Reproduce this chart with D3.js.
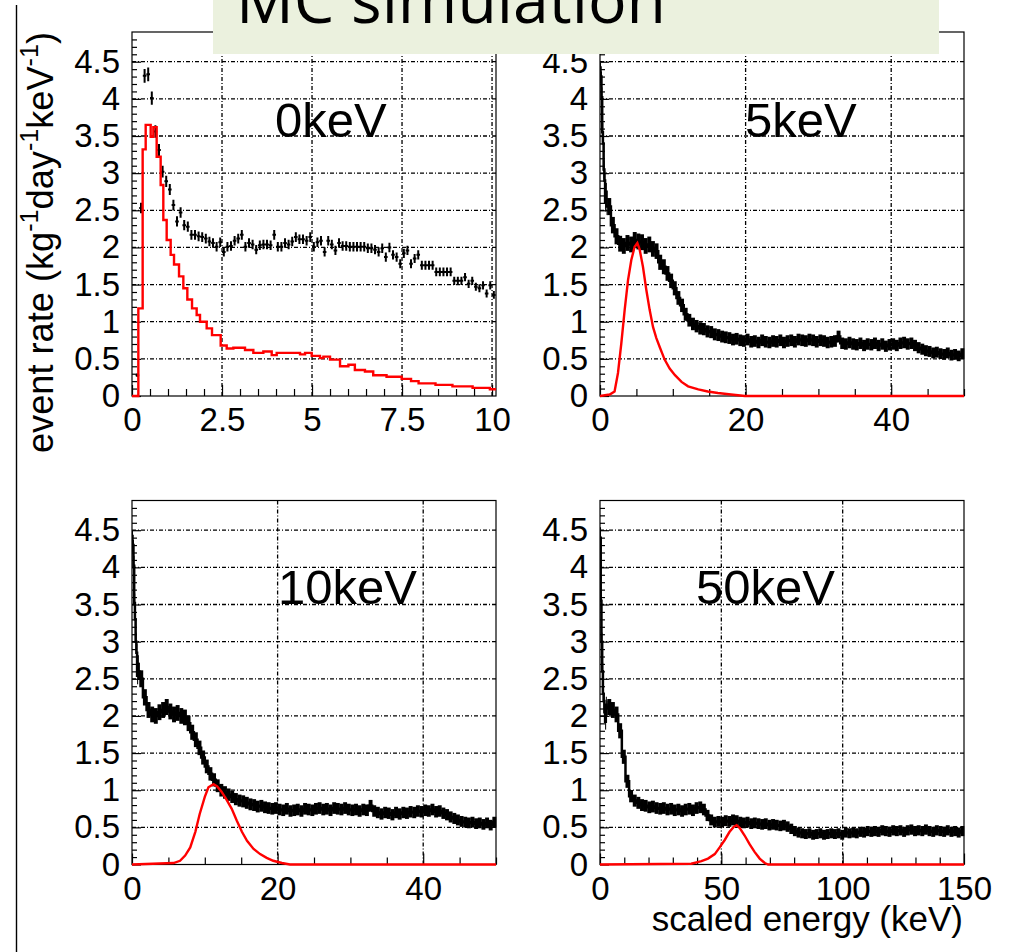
<!DOCTYPE html>
<html>
<head>
<meta charset="utf-8">
<script src="https://cdn.jsdelivr.net/npm/d3@7"></script>
<style>
  body { margin: 0; background: #fff; }
  svg { display: block; }
  text { font-family: "Liberation Sans", Arial, sans-serif; fill: #000; }
  .tick text { font-size: 33px; }
</style>
</head>
<body>
<svg id="chart" width="1010" height="952"></svg>
<script>
// ---- data ----

// 0keV: measured points, 0.1 keV bins starting at 0.1 keV
const rate0 = [0.28,2.53,4.31,4.33,4.01,3.56,3.31,3.02,2.89,2.78,
  2.57,2.35,2.47,2.30,2.28,2.17,2.17,2.15,2.14,2.12,
  2.08,2.06,2.01,2.07,1.94,2.01,2.02,2.09,2.12,2.17,
  2.01,2.06,2.04,1.97,2.03,2.04,2.04,2.03,2.17,2.01,
  2.01,2.06,2.04,2.08,2.14,2.11,2.11,2.09,2.14,2.01,
  2.07,2.09,1.94,2.09,2.04,1.96,2.06,2.02,2.02,2.01,
  2.01,2.01,2.01,2.01,1.99,1.99,1.97,1.94,1.99,1.87,
  2.00,1.90,1.87,1.78,1.92,1.96,1.78,1.85,1.90,1.76,
  1.76,1.76,1.76,1.67,1.67,1.67,1.67,1.67,1.55,1.55,
  1.55,1.60,1.51,1.55,1.47,1.45,1.49,1.38,1.49,1.36];
// 0keV: simulated histogram (bin low edges, contents)
const red0E = [0,0.176,0.296,0.38,0.519,0.593,0.685,0.796,0.87,0.963,1.074,1.167,1.306,1.426,1.537,1.667,1.796,1.889,2.074,2.222,2.463,2.63,2.815,3.139,3.37,3.648,3.88,4.019,4.667,4.806,4.991,5.222,5.315,5.5,5.778,6.01,6.19,6.47,6.70,7.07,7.49,7.75,7.96,8.43,8.9,9.46,9.94,10.11];
const red0R = [0,1.18,3.32,3.65,3.49,3.62,3.22,2.84,2.37,2.10,1.90,1.77,1.61,1.45,1.30,1.18,1.09,1.00,0.91,0.82,0.68,0.64,0.65,0.62,0.58,0.60,0.55,0.58,0.56,0.58,0.54,0.51,0.53,0.49,0.40,0.42,0.35,0.33,0.28,0.26,0.23,0.20,0.17,0.15,0.13,0.11,0.09,0.09];

// 5keV: 0.1 keV bins below 1 keV, 0.5 keV bins above
const head5 = [4.35,4.30,4.02,3.55,3.40,3.05,2.90,2.60,2.75,2.55];
const body5 = [2.55,2.30,2.15,2.05,2.02,2.06,2.04,2.10,2.08,2.07,
  2.02,2.04,1.98,1.95,1.80,1.74,1.65,1.55,1.45,1.32,
  1.22,1.10,1.02,0.97,0.94,0.91,0.90,0.87,0.86,0.83,
  0.82,0.80,0.79,0.78,0.76,0.77,0.75,0.74,0.76,0.73,
  0.74,0.72,0.75,0.73,0.72,0.74,0.73,0.75,0.72,0.74,
  0.75,0.73,0.76,0.75,0.74,0.76,0.75,0.73,0.75,0.74,
  0.72,0.73,0.74,0.80,0.71,0.70,0.72,0.70,0.69,0.71,
  0.68,0.70,0.69,0.71,0.68,0.70,0.67,0.69,0.70,0.68,
  0.71,0.72,0.70,0.71,0.68,0.65,0.63,0.61,0.60,0.58,
  0.59,0.57,0.56,0.58,0.55,0.56,0.54,0.57];
const red5E = [0,1.33,2.0,2.47,2.93,3.39,3.85,4.3,4.76,5.13,5.45,5.9,6.36,6.82,7.28,7.74,8.2,8.88,9.57,10.3,11.2,12.1,13.5,14.8,16.2,18,19.9,50];
const red5R = [0,0.02,0.06,0.31,0.71,1.16,1.56,1.83,2.01,2.06,1.97,1.74,1.43,1.16,0.93,0.78,0.66,0.49,0.37,0.28,0.19,0.13,0.09,0.06,0.04,0.02,0,0];

// 10keV
const head10 = [4.35,4.30,4.02,3.52,3.30,3.00,2.85,2.54,2.70,2.60];
const body10 = [2.50,2.25,2.08,2.02,2.00,2.05,2.08,2.12,2.06,2.02,
  2.04,2.00,1.98,1.90,1.78,1.68,1.57,1.44,1.32,1.22,
  1.14,1.06,1.00,0.97,0.94,0.91,0.88,0.86,0.85,0.83,
  0.81,0.80,0.78,0.79,0.77,0.76,0.75,0.76,0.74,0.73,
  0.75,0.72,0.73,0.74,0.72,0.75,0.74,0.73,0.75,0.76,
  0.74,0.75,0.73,0.76,0.75,0.74,0.76,0.74,0.73,0.74,
  0.72,0.74,0.73,0.79,0.72,0.70,0.68,0.70,0.69,0.67,
  0.70,0.68,0.70,0.69,0.71,0.70,0.72,0.71,0.73,0.72,
  0.74,0.71,0.72,0.69,0.67,0.64,0.62,0.60,0.58,0.57,
  0.56,0.57,0.55,0.56,0.54,0.56,0.53,0.57];
const red10E = [0,5.7,6.6,7.3,8.0,8.7,9.3,10.0,10.5,11.2,11.7,12.3,13.0,13.7,14.4,15.1,15.8,16.7,17.6,18.5,19.4,20.6,21.7,50];
const red10R = [0,0.02,0.05,0.12,0.23,0.44,0.68,0.91,1.04,1.08,1.05,0.98,0.87,0.75,0.59,0.44,0.32,0.21,0.14,0.09,0.05,0.02,0,0];

// 50keV: 0.3 keV bins below 3 keV, 1.5 keV bins above
const head50 = [4.40,3.55,3.00,2.60,2.30,2.20,2.05,1.92,2.15,2.10];
const body50 = [2.12,2.08,2.02,1.80,1.45,1.12,0.92,0.86,0.83,0.80,
  0.79,0.77,0.78,0.76,0.75,0.76,0.74,0.75,0.73,0.74,
  0.72,0.74,0.75,0.73,0.76,0.77,0.74,0.66,0.60,0.57,
  0.58,0.57,0.59,0.58,0.60,0.59,0.57,0.56,0.57,0.55,
  0.56,0.55,0.54,0.55,0.53,0.54,0.53,0.52,0.53,0.51,
  0.48,0.45,0.43,0.42,0.41,0.42,0.40,0.41,0.42,0.40,
  0.41,0.42,0.41,0.42,0.40,0.43,0.42,0.43,0.42,0.44,
  0.43,0.45,0.44,0.45,0.44,0.46,0.45,0.44,0.46,0.45,
  0.46,0.44,0.46,0.47,0.45,0.46,0.45,0.47,0.45,0.44,
  0.46,0.45,0.44,0.46,0.44,0.45,0.43,0.45];
const red50E = [0,37.6,41.8,44.5,47.3,49.3,51.4,53.4,55.2,56.3,57.6,59.6,61.7,63.7,65.8,67.9,69.3,150];
const red50R = [0,0.01,0.045,0.08,0.14,0.23,0.33,0.44,0.51,0.53,0.49,0.39,0.27,0.17,0.08,0.02,0,0];

const yMajor = [0,0.5,1,1.5,2,2.5,3,3.5,4,4.5];

// ---- layout ----
const svg = d3.select("#chart");
const size = 364, yMax = 4.9;

const panels = [
  {name: "0keV", left: 132, top: 32, xMax: 10.11, xMajor: [0,2.5,5,7.5,10], xMinor: 0.5,
   black: [{start: 0.1, width: 0.1, values: rate0}], dense: false,
   redE: red0E, redR: red0R, curve: d3.curveStepAfter, lab: [275, 137]},
  {name: "5keV", left: 600, top: 32, xMax: 50, xMajor: [0,20,40], xMinor: 5,
   black: [{start: 0, width: 0.1, values: head5}, {start: 1, width: 0.5, values: body5}], dense: true,
   redE: red5E, redR: red5R, curve: d3.curveLinear, lab: [745, 137]},
  {name: "10keV", left: 132, top: 500.5, xMax: 50, xMajor: [0,20,40], xMinor: 5,
   black: [{start: 0, width: 0.1, values: head10}, {start: 1, width: 0.5, values: body10}], dense: true,
   redE: red10E, redR: red10R, curve: d3.curveLinear, lab: [278, 604]},
  {name: "50keV", left: 600, top: 500.5, xMax: 150, xMajor: [0,50,100,150], xMinor: 10,
   black: [{start: 0, width: 0.3, values: head50}, {start: 3, width: 1.5, values: body50}], dense: true,
   redE: red50E, redR: red50R, curve: d3.curveLinear, lab: [696, 604]}
];

panels.forEach((p, k) => {
  const x = d3.scaleLinear().domain([0, p.xMax]).range([p.left, p.left + size]);
  const y = d3.scaleLinear().domain([0, yMax]).range([p.top + size, p.top]);
  const g = svg.append("g");
  const bottom = p.top + size;

  // clip slightly below the frame so the zero line stays whole
  g.append("clipPath").attr("id", "clip" + k)
    .append("rect").attr("x", p.left).attr("y", p.top).attr("width", size + 1).attr("height", size + 2);

  // grid
  const dash = "4,2,1,2";
  g.selectAll(".hg").data(yMajor.filter(d => d > 0)).join("line")
    .attr("x1", p.left).attr("x2", p.left + size)
    .attr("y1", d => y(d)).attr("y2", d => y(d))
    .attr("stroke", "#000").attr("stroke-width", 1.3).attr("stroke-dasharray", dash);
  g.selectAll(".vg").data(p.xMajor.filter(d => d > 0 && d < p.xMax - 0.001)).join("line")
    .attr("x1", d => x(d)).attr("x2", d => x(d))
    .attr("y1", p.top).attr("y2", bottom)
    .attr("stroke", "#000").attr("stroke-width", 1.3).attr("stroke-dasharray", dash);

  // axes
  const fmt = d3.format("~g");
  const yMinor = d3.range(1, 49).map(i => i / 10).filter((d, i) => (i + 1) % 5 !== 0);
  const xMinor = d3.range(1, Math.floor(p.xMax / p.xMinor + 1e-6) + 1).map(i => i * p.xMinor)
    .filter(d => !p.xMajor.some(m => Math.abs(m - d) < 1e-6));

  const ya = g.append("g").attr("transform", `translate(${p.left},0)`)
    .call(d3.axisLeft(y).tickValues(yMajor).tickSize(-9).tickPadding(12).tickFormat(fmt));
  const ym = g.append("g").attr("transform", `translate(${p.left},0)`)
    .call(d3.axisLeft(y).tickValues(yMinor).tickSize(-5).tickFormat(""));
  const xa = g.append("g").attr("transform", `translate(0,${bottom})`)
    .call(d3.axisBottom(x).tickValues(p.xMajor).tickSize(-11).tickPadding(12).tickFormat(fmt));
  const xm = g.append("g").attr("transform", `translate(0,${bottom})`)
    .call(d3.axisBottom(x).tickValues(xMinor).tickSize(-7).tickFormat(""));
  [ya, ym, xa, xm].forEach(a => {
    a.attr("font-family", null).attr("font-size", null);
    a.select(".domain").remove();
    a.selectAll(".tick line").attr("stroke", "#000").attr("stroke-width", 1.2);
  });

  // frame
  g.append("rect").attr("x", p.left).attr("y", p.top).attr("width", size).attr("height", size)
    .attr("fill", "none").attr("stroke", "#000").attr("stroke-width", 1.2);

  // measured points with error bars
  const pts = [];
  p.black.forEach(part => part.values.forEach((v, i) => {
    pts.push({lo: part.start + i * part.width, hi: part.start + (i + 1) * part.width, v});
  }));
  const clip = `url(#clip${k})`;
  if (p.dense) {
    // fine binning: the error bars merge into a band
    const err = v => 0.05 * Math.sqrt(v) + 0.035;
    g.append("g").attr("clip-path", clip).selectAll("rect").data(pts).join("rect")
      .attr("x", d => x(d.lo)).attr("width", d => x(d.hi) - x(d.lo) + 0.3)
      .attr("y", d => y(d.v + err(d.v))).attr("height", d => y(d.v - err(d.v)) - y(d.v + err(d.v)))
      .attr("fill", "#000");
    const step = d3.line().x(d => x(d[0])).y(d => y(d[1])).curve(d3.curveStepAfter);
    g.append("path").datum(pts.map(d => [d.lo, d.v]).concat([[pts[pts.length - 1].hi, pts[pts.length - 1].v]]))
      .attr("d", step).attr("clip-path", clip)
      .attr("fill", "none").attr("stroke", "#000").attr("stroke-width", 2.5);
  } else {
    const err = v => 0.045 * Math.sqrt(v);
    const bars = pts.map(d => {
      const c = (d.lo + d.hi) / 2, e = err(d.v);
      return `M${x(d.lo)},${y(d.v)}H${x(d.hi)}M${x(c)},${y(d.v - e)}V${y(d.v + e)}`;
    }).join("");
    g.append("path").attr("d", bars).attr("clip-path", clip)
      .attr("fill", "none").attr("stroke", "#000").attr("stroke-width", 2);
  }

  // simulated spectrum, drawn over the frame's bottom edge
  const line = d3.line().x(d => x(d[0])).y(d => y(d[1])).curve(p.curve);
  g.append("path").datum(d3.zip(p.redE, p.redR)).attr("d", line)
    .attr("clip-path", clip)
    .attr("fill", "none").attr("stroke", "#ff0000").attr("stroke-width", 2.4);

  // panel label
  g.append("text").attr("x", p.lab[0]).attr("y", p.lab[1]).attr("font-size", 49).text(p.name);
});

// y axis title
const yt = svg.append("text").attr("transform", "translate(53,453) rotate(-90)")
  .attr("font-size", 36).attr("textLength", 421).attr("lengthAdjust", "spacingAndGlyphs");
[["event rate (kg", 0], ["-1", 1], ["day", 0], ["-1", 1], ["keV", 0], ["-1", 1], [")", 0]]
  .forEach((s, i, arr) => {
    const prevSup = i > 0 && arr[i - 1][1];
    yt.append("tspan").text(s[0])
      .attr("font-size", s[1] ? 25 : 36)
      .attr("dy", s[1] ? -15 : (prevSup ? 15 : 0));
  });

// x axis title
svg.append("text").attr("x", 963).attr("y", 931).attr("text-anchor", "end")
  .attr("font-size", 35).text("scaled energy (keV)");

// left rule
svg.append("line").attr("x1", 16.5).attr("x2", 16.5).attr("y1", 5).attr("y2", 952)
  .attr("stroke", "#000").attr("stroke-width", 1.4);

// slide title box (its text runs off the top of the picture, as in the reference)
svg.append("rect").attr("x", 213).attr("y", 0).attr("width", 726).attr("height", 54).attr("fill", "#EBF1DE");
svg.append("text").attr("x", 236).attr("y", 23)
  .style("font-family", "'Open Sans', 'Noto Sans', sans-serif")
  .attr("font-size", 64).attr("textLength", 430).attr("lengthAdjust", "spacingAndGlyphs")
  .text("MC simulation");
</script>
</body>
</html>
